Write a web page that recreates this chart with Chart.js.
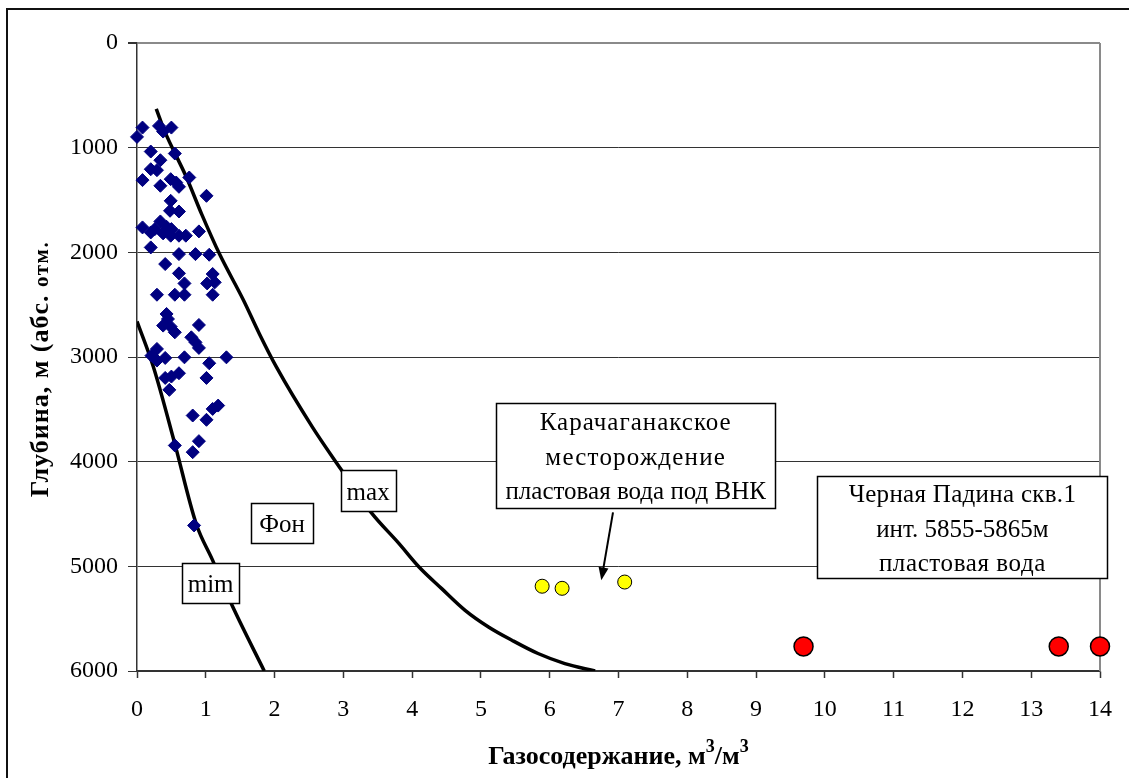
<!DOCTYPE html>
<html>
<head>
<meta charset="utf-8">
<script src="https://cdn.jsdelivr.net/npm/chart.js@4.4.0/dist/chart.umd.min.js"></script>
<style>
  html, body { margin: 0; padding: 0; background: #fff; }
  #chart { display: block; }
</style>
</head>
<body>
<canvas id="chart" width="1129" height="778"></canvas>
<script>
// Фоновые замеры газосодержания (м3/м3) и глубины (м)
const bgGas = [
  0.08, 0.00, 0.32, 0.38, 0.50, 0.20, 0.34, 0.55, 0.20, 0.29,
  0.08, 0.34, 0.49, 0.57, 0.61, 0.76, 1.01, 0.49, 0.48, 0.61,
  0.08, 0.20, 0.34, 0.26, 0.43, 0.50, 0.38, 0.49, 0.61, 0.71,
  0.90, 0.20, 0.61, 0.85, 1.05, 0.41, 0.61, 1.10, 0.69, 1.02,
  1.13, 0.29, 0.55, 0.69, 1.10, 0.43, 0.45, 0.38, 0.49, 0.55,
  0.90, 0.79, 0.85, 0.90, 0.29, 0.21, 0.29, 0.41, 0.69, 1.30,
  1.05, 1.01, 0.41, 0.50, 0.61, 0.47, 0.81, 1.01, 1.10, 1.18,
  0.55, 0.90, 0.81, 0.83
];
const bgDepth = [
  808, 897, 792, 846, 808, 1037, 1120, 1056, 1206, 1215,
  1310, 1364, 1301, 1333, 1374, 1285, 1460, 1508, 1603, 1610,
  1762, 1810, 1705, 1778, 1756, 1778, 1819, 1841, 1841, 1841,
  1800, 1953, 2017, 2017, 2023, 2112, 2201, 2207, 2297, 2297,
  2287, 2405, 2405, 2405, 2405, 2589, 2637, 2700, 2710, 2764,
  2694, 2812, 2860, 2913, 2923, 2987, 3034, 3009, 3003, 3003,
  3060, 3200, 3200, 3187, 3155, 3314, 3559, 3600, 3496, 3464,
  3845, 3804, 3909, 4609
];

// Огибающая max
const maxGas = [0.28, 0.40, 0.72, 0.94, 1.20, 1.55, 1.78, 2.03, 2.55, 2.96, 3.40, 3.81, 4.10, 4.43, 4.77, 5.11, 5.45, 5.83, 6.22, 6.66];
const maxDepth = [630, 840, 1285, 1635, 2017, 2460, 2780, 3100, 3670, 4068, 4482, 4783, 5006, 5213, 5420, 5579, 5706, 5833, 5929, 6000];

// Огибающая mim
const minGas = [0.00, 0.24, 0.55, 0.86, 1.10, 1.37, 1.85];
const minDepth = [2660, 3098, 3830, 4593, 4943, 5356, 6000];

// Карачаганакское месторождение, пластовая вода под ВНК
const karGas = [5.89, 6.18, 7.09];
const karDepth = [5190, 5210, 5150];

// Черная Падина скв.1
const cpGas = [9.69, 13.40, 14.00];
const cpDepth = [5765, 5765, 5765];

const xTicks = [0, 14, 1];
const yTicks = [0, 6000, 1000];

const toPoints = (xs, ys) => xs.map((x, i) => ({ x: x, y: ys[i] }));

const SERIF = '"Liberation Serif", "Times New Roman", serif';

// Подписи в рамках: центр в единицах осей, размер рамки в пикселях
const notes = [
  { lines: ['max'], x: 3.36, y: 4275, w: 55, h: 41, spacing: 0 },
  { lines: ['Фон'], x: 2.11, y: 4585, w: 62, h: 40, spacing: 0 },
  { lines: ['mim'], x: 1.07, y: 5156, w: 57, h: 40, spacing: 0 },
  { lines: ['Карачаганакское', 'месторождение', 'пластовая вода под ВНК'], x: 7.25, y: 3938, w: 279, h: 105, spacing: [1, 1.2, 0] },
  { lines: ['Черная Падина скв.1', 'инт. 5855-5865м', 'пластовая вода'], x: 12.0, y: 4625, w: 290, h: 102, spacing: [0.3, 0, 0.6] }
];
const arrow = { x1: 6.92, y1: 4485, x2: 6.75, y2: 5134 };

const decorPlugin = {
  id: 'decor',
  beforeDraw(chart) {
    const ctx = chart.ctx;
    ctx.save();
    ctx.fillStyle = '#fff';
    ctx.fillRect(0, 0, chart.width, chart.height);
    // внешняя рамка
    ctx.strokeStyle = '#111';
    ctx.lineWidth = 2;
    ctx.beginPath();
    ctx.moveTo(7, chart.height + 5);
    ctx.lineTo(7, 9);
    ctx.lineTo(chart.width + 5, 9);
    ctx.stroke();
    ctx.restore();
  },
  beforeDatasetsDraw(chart) {
    const ctx = chart.ctx;
    const a = chart.chartArea;
    ctx.save();
    ctx.strokeStyle = '#8a8a8a';
    ctx.lineWidth = 2;
    ctx.beginPath();
    ctx.moveTo(a.right, a.top);
    ctx.lineTo(a.right, a.bottom);
    ctx.stroke();
    ctx.restore();
  },
  afterDraw(chart) {
    const ctx = chart.ctx;
    const sx = chart.scales.x, sy = chart.scales.y;
    const a = chart.chartArea;
    ctx.save();

    // рамки с подписями
    notes.forEach(n => {
      const cx = sx.getPixelForValue(n.x);
      const cy = sy.getPixelForValue(n.y);
      const left = Math.round(cx - n.w / 2) + 0.5;
      const top = Math.round(cy - n.h / 2) + 0.5;
      ctx.fillStyle = '#fff';
      ctx.fillRect(left, top, n.w, n.h);
      ctx.strokeStyle = '#000';
      ctx.lineWidth = 1.5;
      ctx.strokeRect(left, top, n.w, n.h);
      ctx.fillStyle = '#000';
      ctx.font = '25px ' + SERIF;
      ctx.textAlign = 'center';
      ctx.textBaseline = 'middle';
      const step = 34.5;
      const first = cy + 3 - step * (n.lines.length - 1) / 2;
      n.lines.forEach((t, i) => {
        ctx.letterSpacing = (Array.isArray(n.spacing) ? n.spacing[i] : n.spacing) + 'px';
        ctx.fillText(t, cx, first + i * step);
      });
      ctx.letterSpacing = '0px';
    });

    // стрелка к точкам Карачаганака
    const x1 = sx.getPixelForValue(arrow.x1), y1 = sy.getPixelForValue(arrow.y1);
    const x2 = sx.getPixelForValue(arrow.x2), y2 = sy.getPixelForValue(arrow.y2);
    const ang = Math.atan2(y2 - y1, x2 - x1);
    const head = 13, half = 5;
    ctx.strokeStyle = '#000';
    ctx.lineWidth = 2;
    ctx.beginPath();
    ctx.moveTo(x1, y1);
    ctx.lineTo(x2 - Math.cos(ang) * head * 0.8, y2 - Math.sin(ang) * head * 0.8);
    ctx.stroke();
    ctx.fillStyle = '#000';
    ctx.beginPath();
    ctx.moveTo(x2, y2);
    ctx.lineTo(x2 - Math.cos(ang) * head - Math.sin(ang) * half, y2 - Math.sin(ang) * head + Math.cos(ang) * half);
    ctx.lineTo(x2 - Math.cos(ang) * head + Math.sin(ang) * half, y2 - Math.sin(ang) * head - Math.cos(ang) * half);
    ctx.closePath();
    ctx.fill();

    // подпись оси X с верхними индексами
    ctx.fillStyle = '#000';
    ctx.textBaseline = 'alphabetic';
    ctx.textAlign = 'left';
    const big = 'bold 26px ' + SERIF, small = 'bold 18px ' + SERIF;
    const parts = [['Газосодержание, м', big, 0], ['3', small, -12], ['/м', big, 0], ['3', small, -12]];
    let total = 0;
    parts.forEach(p => { ctx.font = p[1]; total += ctx.measureText(p[0]).width; });
    let px = (a.left + a.right) / 2 - total / 2;
    parts.forEach(p => {
      ctx.font = p[1];
      ctx.fillText(p[0], px, 764 + p[2]);
      px += ctx.measureText(p[0]).width;
    });

    // подпись оси Y
    ctx.translate(48, (a.top + a.bottom) / 2 + 12);
    ctx.rotate(-Math.PI / 2);
    const yParts = [['Глубина, м (абс. ', 'bold 26px ' + SERIF, 1], ['отм.', 'bold 21px ' + SERIF, 1.5]];
    let yTotal = 0;
    yParts.forEach(p => {
      ctx.font = p[1];
      ctx.letterSpacing = p[2] + 'px';
      yTotal += ctx.measureText(p[0]).width;
    });
    let py = -yTotal / 2;
    yParts.forEach(p => {
      ctx.font = p[1];
      ctx.letterSpacing = p[2] + 'px';
      ctx.fillText(p[0], py, 0);
      py += ctx.measureText(p[0]).width;
    });
    ctx.letterSpacing = '0px';
    ctx.restore();
  }
};

new Chart(document.getElementById('chart').getContext('2d'), {
  type: 'scatter',
  data: {
    datasets: [
      {
        label: 'Фон',
        data: toPoints(bgGas, bgDepth),
        pointStyle: 'rectRot',
        pointRadius: 6.5,
        backgroundColor: '#000080',
        borderColor: '#000080',
        borderWidth: 1,
        clip: 10
      },
      {
        label: 'Карачаганакское',
        data: toPoints(karGas, karDepth),
        pointStyle: 'circle',
        pointRadius: 7,
        backgroundColor: '#ffff00',
        borderColor: '#000',
        borderWidth: 1
      },
      {
        label: 'Черная Падина',
        data: toPoints(cpGas, cpDepth),
        pointStyle: 'circle',
        pointRadius: 9.5,
        backgroundColor: '#ff0000',
        borderColor: '#000',
        borderWidth: 1.5,
        clip: 12
      },
      {
        label: 'max',
        data: toPoints(maxGas, maxDepth),
        showLine: true,
        pointRadius: 0,
        borderColor: '#000',
        borderWidth: 3.5,
        cubicInterpolationMode: 'monotone',
        fill: false
      },
      {
        label: 'mim',
        data: toPoints(minGas, minDepth),
        showLine: true,
        pointRadius: 0,
        borderColor: '#000',
        borderWidth: 3.5,
        cubicInterpolationMode: 'monotone',
        fill: false
      }
    ]
  },
  options: {
    responsive: false,
    animation: false,
    layout: { padding: { top: 43, right: 21, left: 0, bottom: 0 } },
    plugins: {
      legend: { display: false },
      tooltip: { enabled: false }
    },
    scales: {
      x: {
        type: 'linear',
        min: xTicks[0],
        max: xTicks[1],
        afterFit: scale => { scale.height = 107; },
        ticks: {
          stepSize: xTicks[2],
          color: '#000',
          padding: 17,
          maxRotation: 0,
          font: { family: SERIF, size: 24 }
        },
        grid: { drawOnChartArea: false, tickLength: 7, tickColor: '#333', tickWidth: 1.5 },
        border: { color: '#333', width: 1.5 }
      },
      y: {
        type: 'linear',
        reverse: true,
        min: yTicks[0],
        max: yTicks[1],
        afterFit: scale => { scale.width = 137; },
        ticks: {
          stepSize: yTicks[2],
          color: '#000',
          padding: 10,
          font: { family: SERIF, size: 24 },
          callback: v => String(v)
        },
        grid: {
          color: c => c.tick && c.tick.value === 0 ? '#8a8a8a' : '#333',
          lineWidth: c => c.tick && c.tick.value === 0 ? 2 : 1,
          tickLength: 9,
          tickColor: '#333'
        },
        border: { color: '#333', width: 1.5 }
      }
    }
  },
  plugins: [decorPlugin]
});
</script>
</body>
</html>
